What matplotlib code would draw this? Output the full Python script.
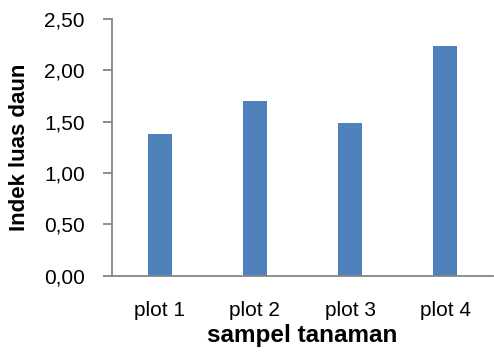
import numpy as np
import matplotlib.pyplot as plt

plt.rcParams['font.family'] = ['Liberation Sans', 'DejaVu Sans']

categories = ['plot 1', 'plot 2', 'plot 3', 'plot 4']
values = [1.38, 1.70, 1.49, 2.24]
yticks = [0.0, 0.5, 1.0, 1.5, 2.0, 2.5]
ytick_labels = ['0,00', '0,50', '1,00', '1,50', '2,00', '2,50']

fig = plt.figure(figsize=(4.94, 3.54), dpi=100, facecolor='w')
ax = fig.add_axes([0.2267, 0.2212, 0.7713, 0.7251])

x = np.arange(len(categories))
ax.bar(x, values, width=0.25, color='#4f81bd')

ax.set_xlim(-0.5, 3.5)
ax.set_ylim(0, 2.5)
ax.set_xticks(x)
ax.set_xticklabels(categories, fontsize=15)
ax.set_yticks(yticks)
ax.set_yticklabels(ytick_labels, fontsize=15)
ax.tick_params(axis='x', length=0, pad=18)
ax.tick_params(axis='y', length=6.5, width=1.3, color='#868686', pad=13)

for s in ['top', 'right']:
    ax.spines[s].set_visible(False)
for s in ['left', 'bottom']:
    ax.spines[s].set_color('#868686')
    ax.spines[s].set_linewidth(1.3)

ax.set_xlabel('sampel tanaman', fontsize=17.5, fontweight='bold', labelpad=3)
ax.set_ylabel('Indek luas daun', fontsize=16, fontweight='bold', labelpad=10)

fig.savefig('out.png', dpi=100)
